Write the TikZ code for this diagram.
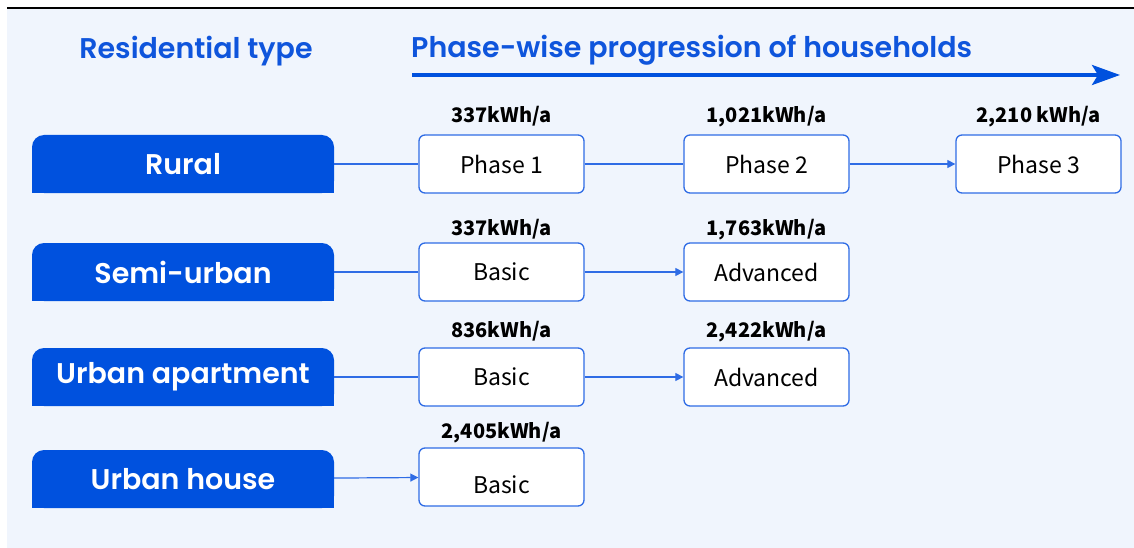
\documentclass[tikz,border=0pt]{standalone}
\usepackage{fontspec}
\newfontfamily\popfont{Poppins}[BoldFont={* SemiBold}]
\newfontfamily\notofont{Noto Sans CJK KR}
\usetikzlibrary{arrows.meta,backgrounds}
\definecolor{tabblue}{HTML}{0051DE}
\definecolor{headblue}{HTML}{0F55DC}
\definecolor{boxblue}{HTML}{2F6CE5}
\definecolor{paleblue}{HTML}{F0F5FD}

\begin{document}
\begin{tikzpicture}[x=1pt,y=-1pt,
every node/.style={inner sep=0pt},
head/.style={text=headblue,font=\popfont\bfseries\fontsize{28.5}{32}\selectfont},
tab/.style={fill=tabblue,rounded corners=12pt,minimum width=302pt,minimum height=58pt,
  text=white,font=\popfont\bfseries\fontsize{28.5}{32}\selectfont},
box/.style={draw=boxblue,line width=1.3pt,fill=white,rounded corners=6pt,
  minimum width=165pt,minimum height=58pt,font=\notofont\fontsize{23}{27}\selectfont},
kwh/.style={anchor=base,font=\notofont\bfseries\fontsize{20}{24}\selectfont},
link/.style={draw=boxblue,line width=1.2pt},
arr/.style={link,-{Triangle[length=8pt,width=8pt]}}]
\useasboundingbox (0,0) rectangle (1134,548);
\draw[black,line width=2.5pt] (7,8) -- (1134,8);

% headings
\node[head] (rt) at (196,51) {Residential type};
\node[head,anchor=west] (pw) at (411,50) {Phase-wise progression of households};
\coordinate (pwS) at (412,75);
\coordinate (pwE) at (1120,75);
\draw[tabblue,line width=3.6pt,-{Stealth[length=28pt,width=20pt,inset=6pt]}] (pwS) -- (pwE);

% residential types
\node[tab] (rural) at (183,164) {Rural};
\node[tab] (semi) at (183,272) {Semi-urban};
\node[tab] (apt) at (183,377) {Urban apartment};
\node[tab] (house) at (183,479) {Urban house};

% phases
\node[box] (r1) at (501.5,164) {Phase 1};
\node[box] (r2) at (766.5,164) {Phase 2};
\node[box] (r3) at (1038.5,164) {Phase 3};
\node[box] (s1) at (501.5,272) {Basic};
\node[box] (s2) at (766.5,272) {Advanced};
\node[box] (a1) at (501.5,377) {Basic};
\node[box] (a2) at (766.5,377) {Advanced};
\node[box] (h1) at (501.5,477) {\raisebox{-16pt}[0pt][0pt]{Basic}};

% consumption
\node[kwh] (kr1) at (501.5,123) {337kWh/a};
\node[kwh] (kr2) at (766.5,123) {1,021kWh/a};
\node[kwh] (kr3) at (1038.5,123) {2,210 kWh/a};
\node[kwh] (ks1) at (501.5,235) {337kWh/a};
\node[kwh] (ks2) at (766.5,235) {1,763kWh/a};
\node[kwh] (ka1) at (501.5,337) {836kWh/a};
\node[kwh] (ka2) at (766.5,337) {2,422kWh/a};
\node[kwh] (kh1) at (501.5,438) {2,405kWh/a};

\draw[link] (rural)--(r1)--(r2);
\draw[arr] (r2)--(r3);
\draw[link] (semi)--(s1);
\draw[arr] (s1)--(s2);
\draw[link] (apt)--(a1);
\draw[arr] (a1)--(a2);
\draw[arr] (house)--(h1);

\begin{scope}[on background layer]
\fill[paleblue] (7,9) rectangle (1134,548);
\foreach \t in {rural,semi,apt,house}
  \fill[tabblue] (\t.west) rectangle (\t.south east);
\end{scope}
\end{tikzpicture}
\end{document}
